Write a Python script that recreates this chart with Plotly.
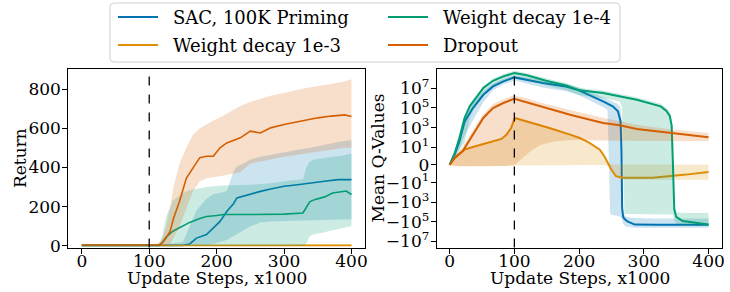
import numpy as np
import plotly.graph_objects as go

# ---------------- Left panel: Return ----------------
ret_sac_x = [0, 50, 100, 120, 150, 160, 170, 185, 195, 205, 215, 225, 230, 240, 250, 265, 280, 300, 320, 340, 360, 380, 400]
ret_sac = [3, 3, 3, 3, 3, 10, 40, 58, 90, 125, 175, 215, 245, 255, 262, 278, 290, 304, 312, 322, 330, 338, 338]
ret_sac_lo = [0, 0, 0, 0, 0, 0, 0, 5, 10, 20, 30, 50, 60, 80, 100, 120, 125, 130, 130, 132, 133, 135, 135]
ret_sac_hi = [5, 5, 5, 6, 20, 100, 180, 240, 265, 270, 280, 380, 405, 420, 440, 455, 465, 480, 490, 500, 515, 530, 540]

ret_wd3_x = [0, 100, 200, 300, 330, 400]
ret_wd3 = [2, 2, 2, 2, 3, 3]
ret_wd3_lo = [0, 0, 0, 0, 0, 0]
ret_wd3_hi = [4, 4, 4, 4, 8, 10]

ret_wd4_x = [0, 50, 100, 115, 120, 125, 135, 150, 160, 175, 185, 200, 210, 250, 280, 300, 328, 333, 338, 345, 360, 372, 385, 392, 400]
ret_wd4 = [3, 3, 3, 3, 20, 45, 75, 100, 120, 140, 150, 155, 160, 160, 160, 162, 168, 200, 225, 236, 250, 270, 275, 280, 262]
ret_wd4_lo = [0, 0, 0, 0, 0, 0, 0, 0, 0, 0, 0, 0, 0, 0, 0, 0, 0, 10, 50, 60, 70, 80, 90, 95, 100]
ret_wd4_hi = [5, 5, 5, 8, 60, 150, 230, 270, 285, 295, 300, 305, 308, 312, 320, 330, 340, 400, 430, 440, 450, 455, 460, 465, 470]

ret_do_x = [0, 50, 100, 112, 118, 125, 131, 136, 145, 155, 165, 175, 185, 195, 205, 215, 235, 250, 265, 280, 300, 325, 350, 370, 390, 400]
ret_do = [5, 5, 5, 5, 10, 40, 75, 140, 228, 345, 398, 450, 457, 457, 500, 525, 551, 585, 576, 602, 619, 636, 653, 662, 668, 660]
ret_do_lo = [2, 2, 2, 2, 0, 0, 10, 40, 100, 190, 280, 330, 345, 350, 355, 360, 375, 420, 430, 440, 455, 470, 480, 490, 500, 500]
ret_do_hi = [8, 8, 8, 8, 30, 100, 200, 300, 420, 500, 568, 600, 619, 640, 655, 675, 713, 735, 750, 765, 780, 800, 815, 825, 840, 850]

# ---------------- Right panel: Mean Q-Values (symlog) ----------------
q_sac_x = [0, 4, 8, 15, 23, 36, 52, 67, 83, 100, 119, 144, 180, 200, 237, 244, 248, 252, 260, 264, 265.5, 266.5, 268, 270, 274, 286, 320, 360, 400]
q_sac = [0, 0.9, 2.0, 39, 3.9e3, 9.8e4, 2.2e6, 1.55e7, 5.1e7, 1.3e8, 7.6e7, 3.5e7, 1.55e7, 6.2e6, 4.7e5, 2.75e5, 1.95e5, 1.45e5, 4.6e4, 4.4e3, 3.9, -3.9e3, -3.1e4, -4.9e4, -8.3e4, -1.86e5, -1.95e5, -1.95e5, -1.95e5]
q_sac_hi = [0, 1.26, 3.9, 98, 9.8e3, 3.1e5, 4.9e6, 3.1e7, 9.8e7, 2.2e8, 1.38e8, 6.2e7, 2.75e7, 1.23e7, 1.23e6, 7.8e5, 6.2e5, 4.9e5, 2.45e5, 9.8e4, 1.55e4, 1.55e3, -4.9e3, -1.95e4, -3.1e4, -3.9e4, -4.4e4, -4.4e4, -4.4e4]
q_sac_lo = [0, 0.54, 1.44, 4.9, 155, 6.2e3, 3.9e5, 6.2e6, 2.45e7, 6.2e7, 3.1e7, 1.23e7, 4.9e6, 1.95e6, 1.23e5, 6.2e4, -1.55e4, -1.95e4, -2.45e4, -3.1e4, -3.9e4, -4.9e4, -1.55e5, -2.45e5, -3.1e5, -3.9e5, -3.9e5, -3.9e5, -3.9e5]

q_wd3_x = [0, 4, 10, 23, 36, 52, 67, 80, 88, 95, 100.6, 119, 154, 186, 201, 216, 232, 239, 244, 250, 257, 268, 314, 340, 365, 400]
q_wd3 = [0, 0.81, 1.58, 5.6, 10.5, 21, 40, 69, 190, 910, 9.5e3, 4.4e3, 910, 190, 87, 27, 5.6, 1.58, 0.36, -0.86, -2.2, -3.2, -3.1, -2.2, -1.78, -1.28]
q_wd3_hi = [0, 0.9, 1.71, 6.9, 12.9, 26, 49, 87, 245, 1.23e3, 1.23e4, 5.5e3, 1.15e3, 240, 110, 34, 7.1, 1.76, 0.54, 0.09, 0.09, 0.09, 0.09, 0.09, 0.09, 0.09]
q_wd3_lo = [0, -0.09, -0.18, -0.23, -0.23, -0.23, -0.22, -0.2, -0.18, -0.11, 0, 0, 0, 0, 0, 0, 0, 0, -0.18, -1.08, -3.1, -4.9, -4.9, -4.9, -4.9, -4.9]

q_wd4_x = [0, 4, 8, 15, 23, 31, 41, 52, 67, 83, 100, 119, 149, 180, 201, 237, 262, 266, 270, 289, 326, 335, 340, 343, 345, 347, 350, 360, 380, 400]
q_wd4 = [0, 1.08, 2.57, 87, 9.5e3, 1.45e5, 1.02e6, 1.07e7, 5.9e7, 1.66e8, 3.6e8, 2.1e8, 5.9e7, 1.95e7, 6.2e6, 3.3e6, 1.55e6, 1.38e6, 1.23e6, 6.9e5, 1.45e5, 4.9e4, 1.55e4, 1.55e3, 0, -4.9e3, -3.1e4, -8.3e4, -1.23e5, -1.86e5]
q_wd4_hi = [0, 1.44, 4.9, 155, 1.55e4, 2.45e5, 1.74e6, 1.74e7, 9.8e7, 2.75e8, 6.2e8, 3.7e8, 1.05e8, 3.5e7, 1.1e7, 5.9e6, 2.75e6, 2.45e6, 2.2e6, 1.23e6, 2.6e5, 9.8e4, 3.9e4, 1.23e4, 155, -1.55e3, -9.8e3, -1.23e4, -1.23e4, -1.23e4]
q_wd4_lo = [0, 0.72, 1.62, 6.2, 24.5, 9.8e3, 2.45e5, 3.1e6, 1.95e7, 6.2e7, 1.23e8, 7.8e7, 1.95e7, 6.2e6, 1.95e6, 9.8e5, 4.9e5, 1.55e5, -1.55e4, -1.74e4, -1.74e4, -1.74e4, -1.74e4, -1.74e4, -1.95e4, -6.2e4, -1.55e5, -2.45e5, -2.45e5, -2.45e5]

q_do_x = [0, 4, 8, 20, 31, 36, 52, 67, 83, 100, 110, 124, 139, 159, 186, 237, 263, 289, 340, 400]
q_do = [0, 0.72, 1.28, 3.8, 59, 190, 9.5e3, 9.8e4, 3.2e5, 8.7e5, 5.5e5, 3.1e5, 1.45e5, 6.2e4, 2.0e4, 2.95e3, 1.7e3, 720, 280, 100]
q_do_hi = [0, 1.08, 1.8, 9.8, 155, 490, 2.45e4, 2.45e5, 7.8e5, 1.95e6, 1.38e6, 7.8e5, 3.9e5, 1.74e5, 6.2e4, 9.8e3, 4.4e3, 1.95e3, 690, 280]
q_do_lo = [0, -0.09, -0.18, -0.23, -0.23, -0.23, -0.23, -0.22, -0.18, -0.04, 0.9, 3.5, 15.5, 36, 55, 49, 44, 41, 40, 40]

x_ticks = [0, 100, 200, 300, 400]
ret_ticks = [0, 200, 400, 600, 800]
q_tick_exps = [7, 5, 3, 1]
priming_step = 100

LABELS = ["SAC, 100K Priming", "Weight decay 1e-3", "Weight decay 1e-4", "Dropout"]
COLORS = ["#0173B2", "#DE8F05", "#029E73", "#D55E00"]
FONT = "DejaVu Serif, Liberation Serif, serif"

LINTHRESH = 2.0
LINSCALE_ADJ = 1.0 / (1.0 - 1.0 / 10.0)

W, H = 730, 292


def symlog(v):
    a = np.asarray(v, dtype=float)
    out = np.empty_like(a)
    small = np.abs(a) <= LINTHRESH
    out[small] = a[small] * LINSCALE_ADJ / LINTHRESH
    big = ~small
    out[big] = np.sign(a[big]) * (LINSCALE_ADJ + np.log10(np.abs(a[big]) / LINTHRESH))
    return out


def rgba(hexc, alpha):
    h = hexc.lstrip("#")
    r, g, b = int(h[0:2], 16), int(h[2:4], 16), int(h[4:6], 16)
    return f"rgba({r},{g},{b},{alpha})"


def px(x):
    return x / W


def py(y):
    return 1 - y / H


fig = go.Figure()

left = [
    (ret_sac_x, ret_sac, ret_sac_lo, ret_sac_hi),
    (ret_wd3_x, ret_wd3, ret_wd3_lo, ret_wd3_hi),
    (ret_wd4_x, ret_wd4, ret_wd4_lo, ret_wd4_hi),
    (ret_do_x, ret_do, ret_do_lo, ret_do_hi),
]
right = [
    (q_sac_x, q_sac, q_sac_lo, q_sac_hi),
    (q_wd3_x, q_wd3, q_wd3_lo, q_wd3_hi),
    (q_wd4_x, q_wd4, q_wd4_lo, q_wd4_hi),
    (q_do_x, q_do, q_do_lo, q_do_hi),
]

for i, (x, m, lo, hi) in enumerate(left):
    xs = list(x) + list(x)[::-1]
    ys = list(hi) + list(lo)[::-1]
    fig.add_trace(go.Scatter(x=xs, y=ys, fill="toself", fillcolor=rgba(COLORS[i], 0.2),
                             line=dict(width=0), mode="lines", hoverinfo="skip",
                             showlegend=False, xaxis="x", yaxis="y"))
    fig.add_trace(go.Scatter(x=x, y=m, mode="lines", line=dict(color=COLORS[i], width=1.6),
                             name=LABELS[i], showlegend=False, xaxis="x", yaxis="y"))

for i, (x, m, lo, hi) in enumerate(right):
    xs = list(x) + list(x)[::-1]
    ys = list(symlog(hi)) + list(symlog(lo))[::-1]
    fig.add_trace(go.Scatter(x=xs, y=ys, fill="toself", fillcolor=rgba(COLORS[i], 0.2),
                             line=dict(width=0), mode="lines", hoverinfo="skip",
                             showlegend=False, xaxis="x2", yaxis="y2"))
    fig.add_trace(go.Scatter(x=x, y=symlog(m), mode="lines", line=dict(color=COLORS[i], width=2),
                             name=LABELS[i], showlegend=False, xaxis="x2", yaxis="y2"))

q_tickvals = []
q_ticktext = []
for e in q_tick_exps:
    q_tickvals.append(float(symlog([10.0 ** e])[0]))
    q_ticktext.append(f"10<sup>{e}</sup>")
q_tickvals.append(0.0)
q_ticktext.append("0")
for e in sorted(q_tick_exps):
    q_tickvals.append(float(symlog([-(10.0 ** e)])[0]))
    q_ticktext.append(f"\u221210<sup>{e}</sup>")

tickfont = dict(family=FONT, size=17, color="black")
common_axis = dict(showline=True, mirror=True, linecolor="black", linewidth=1,
                   ticks="outside", ticklen=5, tickwidth=1, tickcolor="black",
                   showgrid=False, zeroline=False, tickfont=tickfont, automargin=False)

YDOM = [py(247.5), py(69)]
fig.update_layout(
    width=W, height=H,
    margin=dict(l=0, r=0, t=0, b=0),
    paper_bgcolor="white", plot_bgcolor="white",
    font=dict(family=FONT, size=17, color="black"),
    xaxis=dict(domain=[px(68.3), px(365)], range=[-20, 420], tickvals=x_ticks, anchor="y",
               ticklabelstandoff=-7, **common_axis),
    yaxis=dict(domain=YDOM, range=[-8, 902], tickvals=ret_ticks, anchor="x",
               ticklabelstandoff=-2, **common_axis),
    xaxis2=dict(domain=[px(436.7), px(721.5)], range=[-20, 420], tickvals=x_ticks, anchor="y2",
                ticklabelstandoff=-7, **common_axis),
    yaxis2=dict(domain=YDOM, range=[-8.42, 9.78], tickvals=q_tickvals, ticktext=q_ticktext, anchor="x2",
                ticklabelstandoff=-2, **common_axis),
    showlegend=False,
)

for xa in ["x", "x2"]:
    fig.add_shape(type="line", xref=xa, yref=("y domain" if xa == "x" else "y2 domain"),
                  x0=priming_step, x1=priming_step, y0=0, y1=1,
                  line=dict(color="black", width=1.3, dash="dash"))

ann_font = dict(family=FONT, size=17, color="black")
fig.add_annotation(text="Return", x=px(20), y=py(158), xref="paper", yref="paper",
                   showarrow=False, textangle=-90, font=ann_font, xanchor="center", yanchor="middle")
fig.add_annotation(text="Mean Q-Values", x=px(377.5), y=py(158), xref="paper", yref="paper",
                   showarrow=False, textangle=-90, font=ann_font, xanchor="center", yanchor="middle")
fig.add_annotation(text="Update Steps, x1000", x=px(216.6), y=py(278), xref="paper", yref="paper",
                   showarrow=False, font=ann_font, xanchor="center", yanchor="middle")
fig.add_annotation(text="Update Steps, x1000", x=px(580), y=py(278), xref="paper", yref="paper",
                   showarrow=False, font=ann_font, xanchor="center", yanchor="middle")

# ---- legend box (matplotlib-style, 2 columns) ----
bx0, bx1, by0, by1, rad = 110, 620, 3, 62, 4
path = (f"M {px(bx0 + rad)} {py(by0)} L {px(bx1 - rad)} {py(by0)} "
        f"Q {px(bx1)} {py(by0)} {px(bx1)} {py(by0 + rad)} L {px(bx1)} {py(by1 - rad)} "
        f"Q {px(bx1)} {py(by1)} {px(bx1 - rad)} {py(by1)} L {px(bx0 + rad)} {py(by1)} "
        f"Q {px(bx0)} {py(by1)} {px(bx0)} {py(by1 - rad)} L {px(bx0)} {py(by0 + rad)} "
        f"Q {px(bx0)} {py(by0)} {px(bx0 + rad)} {py(by0)} Z")
fig.add_shape(type="path", path=path, xref="paper", yref="paper",
              line=dict(color="#d0d0d0", width=1), fillcolor="rgba(255,255,255,0.85)", layer="above")

leg_font = dict(family=FONT, size=18, color="black")
legend_slots = [(118, 17), (118, 45), (388, 17), (388, 45)]  # column-major like matplotlib
for i, (lx, ly) in enumerate(legend_slots):
    fig.add_shape(type="line", xref="paper", yref="paper", x0=px(lx), x1=px(lx + 40),
                  y0=py(ly), y1=py(ly), line=dict(color=COLORS[i], width=2), layer="above")
    fig.add_annotation(text=LABELS[i], x=px(lx + 53), y=py(ly), xref="paper", yref="paper",
                       showarrow=False, font=leg_font, xanchor="left", yanchor="middle")

fig.write_html("out.html", config={"displayModeBar": False},
               post_script="document.body.style.margin='0';document.body.style.padding='0';")
